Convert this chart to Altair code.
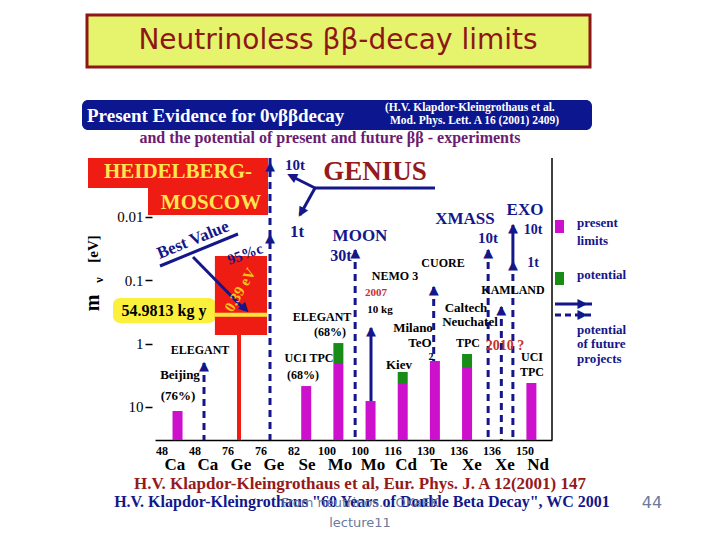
import altair as alt
import pandas as pd

# ---------------- data ----------------
Y_MIN, Y_MAX = 0.00117, 33.3          # m_nu range of the plot [eV], log scale, reversed
X_MIN, X_MAX = 0.455, 12.485          # isotope slot range
W, H = 397, 282

iso_slot = list(range(1, 13))
iso_mass = ["48", "48", "76", "76", "82", "100", "100", "116", "130", "136", "136", "150"]
iso_elem = ["Ca", "Ca", "Ge", "Ge", "Se", "Mo", "Mo", "Cd", "Te", "Xe", "Xe", "Nd"]

# present limits (magenta bars)
bar_slot = [1, 5, 6, 7, 8, 9, 10, 12]
bar_limit = [11.6, 4.68, 2.10, 8.07, 4.19, 1.88, 2.43, 4.19]

# potential (green segments)
pot_slot = [6, 8, 10]
pot_from = [2.10, 4.19, 2.43]
pot_to = [0.98, 2.81, 1.46]

# future projects (dashed arrows): ELEGANT-Ca, GENIUS, MOON, CUORE, XMASS, KamLAND, EXO
fut_slot = [1.94, 3.94, 6.52, 8.9, 10.55, 10.95, 11.3]
fut_reach = [2.02, Y_MIN, 0.0332, 0.128, 0.0332, 0.264, 0.0514]

# solid arrows: NEMO 3 (10 kg), EXO 1t -> 10t
sol_slot = [7, 11.3]
sol_from = [8.07, 0.0514]
sol_to = [0.567, 0.0134]

# arrow heads
head_slot = [1.94, 3.94, 3.94, 6.52, 8.9, 10.55, 10.95, 11.3, 11.3, 7]
head_val = [2.02, 0.0014, 0.0192, 0.0332, 0.128, 0.0332, 0.264, 0.0514, 0.0134, 0.567]

# Heidelberg-Moscow evidence
hm_slot = [2.27, 3.85]
hm_range = [0.0413, 0.731]
hm_best = 0.35
hm_line_slot = 3

# ---------------- styles ----------------
NAVY = "#14168a"
DRED = "#961a1a"
MAG = "#cc10cc"
GRN = "#178c17"
RED = "#ee1c12"
RED2 = "#c8302a"
YTXT = "#ffe650"
SERIF = "Liberation Serif"
ARROW = "▲"

xs = alt.Scale(domain=[X_MIN, X_MAX], nice=False, zero=False)
ys = alt.Scale(type="log", domain=[Y_MIN, Y_MAX], reverse=True, nice=False)

xaxis = alt.Axis(domain=True, ticks=False, labels=False, grid=False, title=None,
                 domainColor="black", domainWidth=1.5)
yaxis = alt.Axis(values=[0.01, 0.1, 1, 10], format="~g", domain=False, grid=False,
                 ticks=True, tickSize=7, tickColor="black", tickWidth=1.5, offset=3,
                 labelPadding=2, labelFont=SERIF, labelFontSize=15, labelColor="black",
                 title=None)

X = lambda f: alt.X(f, type="quantitative", scale=xs, axis=None)
Y = lambda f: alt.Y(f, type="quantitative", scale=ys, axis=None)

bars_df = pd.DataFrame({"slot": bar_slot, "top": bar_limit, "base": [Y_MAX] * len(bar_slot)})
pot_df = pd.DataFrame({"slot": pot_slot, "a": pot_from, "b": pot_to})
fut_df = pd.DataFrame({"slot": fut_slot, "top": fut_reach, "base": [Y_MAX] * len(fut_slot)})
sol_df = pd.DataFrame({"slot": sol_slot, "a": sol_from, "b": sol_to})
head_df = pd.DataFrame({"slot": head_slot, "v": head_val})
hm_df = pd.DataFrame({"x0": [hm_slot[0]], "x1": [hm_slot[1]], "lo": [hm_range[0]], "hi": [hm_range[1]]})
hm_best_df = pd.DataFrame({"x0": [hm_slot[0]], "x1": [hm_slot[1]], "v": [hm_best]})
hm_line_df = pd.DataFrame({"slot": [hm_line_slot], "a": [hm_range[1]], "b": [Y_MAX]})
iso_df = pd.DataFrame({"slot": iso_slot, "mass": iso_mass, "elem": iso_elem})

fut = alt.Chart(fut_df).mark_rule(color=NAVY, strokeWidth=3, strokeDash=[7, 5]).encode(
    x=X("slot"), y=Y("top"), y2="base")
sol = alt.Chart(sol_df).mark_rule(color=NAVY, strokeWidth=3).encode(
    x=X("slot"), y=Y("a"), y2="b")
heads = alt.Chart(head_df).mark_text(text=ARROW, font="DejaVu Sans", fontSize=13, color=NAVY,
                                     baseline="middle", dy=3).encode(x=X("slot"), y=Y("v"))
bars = alt.Chart(bars_df).mark_bar(size=10, color=MAG).encode(
    x=alt.X("slot:Q", scale=xs, axis=xaxis), y=alt.Y("top:Q", scale=ys, axis=yaxis), y2="base")
pot = alt.Chart(pot_df).mark_bar(size=10, color=GRN).encode(x=X("slot"), y=Y("a"), y2="b")
hm_line = alt.Chart(hm_line_df).mark_rule(color=RED, strokeWidth=4).encode(
    x=X("slot"), y=Y("a"), y2="b")
hm_rect = alt.Chart(hm_df).mark_rect(color=RED).encode(x=X("x0"), x2="x1", y=Y("lo"), y2="hi")
hm_best_l = alt.Chart(hm_best_df).mark_rule(color="#ffe43a", strokeWidth=4).encode(
    x=X("x0"), x2="x1", y=Y("v"))
iso_mass_t = alt.Chart(iso_df).mark_text(font=SERIF, fontWeight="bold", fontSize=12, dx=-11,
                                         color="black").encode(
    x=X("slot"), y=alt.value(H + 11), text="mass:N")
iso_elem_t = alt.Chart(iso_df).mark_text(font=SERIF, fontWeight="bold", fontSize=17, dx=2,
                                         color="black").encode(
    x=X("slot"), y=alt.value(H + 25), text="elem:N")

# ---------------- slide decorations (pixel positions relative to plot) ----------------
def px_enc(extra=None):
    e = dict(x=alt.X("px:Q", scale=None, axis=None), y=alt.Y("py:Q", scale=None, axis=None))
    if extra:
        e.update(extra)
    return e


def texts(rows, font=SERIF, weight="bold", align="center"):
    df = pd.DataFrame(rows, columns=["px", "py", "text", "color", "size", "angle"])
    return alt.Chart(df).mark_text(font=font, fontWeight=weight, align=align,
                                   baseline="middle").encode(**px_enc(dict(
        text="text:N", color=alt.Color("color:N", scale=None),
        size=alt.Size("size:Q", scale=None), angle=alt.Angle("angle:Q", scale=None))))


def rects(rows, **kw):
    df = pd.DataFrame(rows, columns=["px", "px2", "py", "py2", "fill"])
    return alt.Chart(df).mark_rect(**kw).encode(**px_enc(dict(
        x2="px2", y2="py2", color=alt.Color("fill:N", scale=None))))


def lines(rows, **kw):
    df = pd.DataFrame(rows, columns=["px", "py", "px2", "py2"])
    return alt.Chart(df).mark_rule(**kw).encode(**px_enc(dict(x2="px2", y2="py2")))


def arrowheads(rows):
    df = pd.DataFrame(rows, columns=["px", "py", "angle"])
    return alt.Chart(df).mark_text(text=ARROW, font="DejaVu Sans", fontSize=13, color=NAVY,
                                   baseline="middle").encode(**px_enc(dict(
        angle=alt.Angle("angle:Q", scale=None))))


title_box = alt.Chart(pd.DataFrame({"px": [-68], "px2": [435], "py": [-143], "py2": [-91]})).mark_rect(
    fill="#e6f36d", stroke="#8e1616", strokeWidth=3).encode(**px_enc(dict(x2="px2", y2="py2")))
title_txt = texts([(183, -117, "Neutrinoless ββ-decay limits", "#8e1616", 28, 0)],
                  font="DejaVu Sans", weight="normal")

banner = rects([(-73, 437, -58, -28, "#0b168f")], cornerRadius=6)
boxes = rects([(-67, 113, 0, 30, RED), (-7, 113, 28, 57, RED),
               (400, 409, 62, 75, MAG), (400, 409, 114, 127, GRN)])
ybox = rects([(-42, 61, 140, 165, "#fbf03c")], cornerRadius=7)

header_left = texts([
    (-68, -42, "Present Evidence for 0νββdecay", "white", 19, 0),
    (230, -50, "(H.V. Klapdor-Kleingrothaus et al.", "white", 11.5, 0),
    (235, -37, "Mod. Phys. Lett. A 16 (2001) 2409)", "white", 11.5, 0),
], align="left")

main_texts = texts([
    (175, -20, "and the potential of present and future ββ - experiments", "#6c1c70", 16, 0),
    (23, 14, "HEIDELBERG-", YTXT, 21, 0),
    (56, 45, "MOSCOW", YTXT, 21, 0),
    (140, 7, "10t", NAVY, 15, 0),
    (220, 14, "GENIUS", DRED, 27, 0),
    (142, 74, "1t", NAVY, 17, 0),
    (205, 78, "MOON", NAVY, 17, 0),
    (186, 98, "30t", NAVY, 16, 0),
    (310, 61, "XMASS", NAVY, 17, 0),
    (333, 80, "10t", NAVY, 15, 0),
    (370, 52, "EXO", NAVY, 17, 0),
    (378, 72, "10t", NAVY, 14, 0),
    (378, 105, "1t", NAVY, 14, 0),
    (288, 105, "CUORE", "black", 12, 0),
    (240, 118, "NEMO 3", "black", 12, 0),
    (221, 135, "2007", RED2, 11, 0),
    (225, 152, "10 kg", "black", 11, 0),
    (358, 132, "KAMLAND", "black", 12, 0),
    (311, 150, "Caltech", "black", 13, 0),
    (315, 164, "Neuchatel", "black", 13, 0),
    (313, 185, "TPC", "black", 12, 0),
    (258, 170, "Milano", "black", 13, 0),
    (265, 185, "TeO", "black", 13, 0),
    (276, 199, "2", "black", 10, 0),
    (350, 188, "2010 ?", RED2, 14, 0),
    (377, 199, "UCI", "black", 12, 0),
    (377, 214, "TPC", "black", 12, 0),
    (244, 207, "Kiev", "black", 13, 0),
    (167, 159, "ELEGANT", "black", 12, 0),
    (175, 174, "(68%)", "black", 12, 0),
    (154, 200, "UCI TPC", "black", 12, 0),
    (148, 217, "(68%)", "black", 12, 0),
    (45, 192, "ELEGANT", "black", 12, 0),
    (25, 217, "Beijing", "black", 13, 0),
    (23, 238, "(76%)", "black", 13, 0),
    (38, 82, "Best Value", NAVY, 17, 338),
    (90, 96, "95%c", NAVY, 15, 340),
    (85, 132, "0.39 eV", "#f7c21c", 15, 300),
    (9, 153, "54.9813 kg y", "black", 16, 0),
    (-62, 145, "m", "black", 20, 270),
    (-56, 122, "ν", "black", 12, 270),
    (-62, 91, "[eV]", "black", 15, 270),
    (205, 326, "H.V. Klapdor-Kleingrothaus et al, Eur. Phys. J. A 12(2001) 147", DRED, 17, 0),
    (207, 344, 'H.V. Klapdor-Kleingrothaus "60 Years of Double Beta Decay", WC 2001', NAVY, 16, 0),
])

legend_txt = texts([
    (422, 65, "present", NAVY, 13, 0),
    (422, 83, "limits", NAVY, 13, 0),
    (422, 117, "potential", NAVY, 13, 0),
    (422, 172, "potential", NAVY, 13, 0),
    (422, 186, "of future", NAVY, 13, 0),
    (422, 201, "projects", NAVY, 13, 0),
], align="left")

footer_txt = texts([
    (205, 345, "From neutrinos... OKaEK", "#6b7aa1", 13, 0),
    (205, 365, "lecture11", "#6b7aa1", 13, 0),
    (497, 345, "44", "#6b7aa1", 16, 0),
], font="DejaVu Sans", weight="normal")

ann_lines = lines([
    (5, 108, 83, 76), (38, 99, 90, 152),
    (160, 30, 280, 30), (160, 30, 136, 18), (160, 30, 145, 57),
    (400, 146, 437, 146),
], color=NAVY, strokeWidth=3)
ann_dash = lines([(400, 157, 437, 157)], color=NAVY, strokeWidth=3, strokeDash=[6, 4])
frame = lines([(W, 0, W, H)], color="black", strokeWidth=1.5)
ann_heads = arrowheads([(90, 151, 135), (136, 18, 296), (146, 55, 210), (428, 146, 90), (428, 157, 90)])

chart = alt.layer(
    title_box, title_txt, banner, header_left, boxes, ybox,
    fut, hm_line, hm_rect, hm_best_l, bars, pot, sol, heads,
    frame, ann_lines, ann_dash, ann_heads,
    main_texts, legend_txt, footer_txt, iso_mass_t, iso_elem_t,
).resolve_scale(
    x="independent", y="independent", color="independent", size="independent", angle="independent"
).properties(
    width=W, height=H,
    padding={"left": 147, "top": 150, "right": 160, "bottom": 92},
    autosize=alt.AutoSizeParams(type="none"),
    background="white",
).configure_view(stroke=None)

chart.save("out.html", embed_options={"renderer": "svg", "actions": False})
